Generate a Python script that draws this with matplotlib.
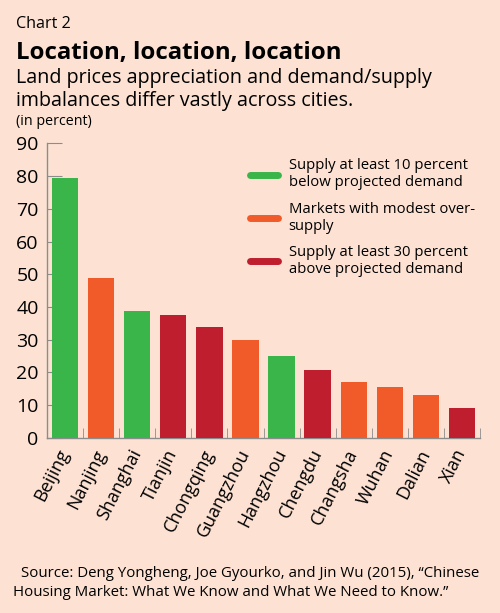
import numpy as np
import matplotlib
matplotlib.use("Agg")
import matplotlib.pyplot as plt
from matplotlib.lines import Line2D

plt.rcParams['font.family'] = ['Open Sans', 'DejaVu Sans']

cities = ["Beijing", "Nanjing", "Shanghai", "Tianjin", "Chongqing", "Guangzhou",
          "Hangzhou", "Chengdu", "Changsha", "Wuhan", "Dalian", "Xian"]
values = [79.4, 48.8, 38.7, 37.5, 33.8, 29.9, 24.9, 20.7, 16.9, 15.4, 13.1, 9.0]
groups = [0, 1, 0, 2, 2, 1, 0, 2, 1, 1, 1, 2]
yticks = [0, 10, 20, 30, 40, 50, 60, 70, 80, 90]

group_colors = ["#3AB54A", "#F15A29", "#BE1E2D"]
group_labels = ["Supply at least 10 percent\nbelow projected demand",
                "Markets with modest over-\nsupply",
                "Supply at least 30 percent\nabove projected demand"]

bg = "#FDE2D3"
axis_gray = "#8C8C8C"

fig = plt.figure(figsize=(5, 6.13), dpi=100, facecolor=bg)
ax = fig.add_axes([0.094, 0.286, 0.866, 0.48], facecolor=bg)

x = np.arange(len(cities))
ax.bar(x, values, width=0.73, color=[group_colors[g] for g in groups], zorder=3)

ax.set_xlim(-0.5, len(cities) - 0.5)
ax.set_ylim(0, 90)
ax.set_yticks(yticks)
ax.set_xticks(x)
ax.set_xticklabels(cities, rotation=63, ha="right", va="center", rotation_mode="anchor", fontsize=13)
ax.set_xticks(np.arange(len(cities) + 1) - 0.5, minor=True)

for s in ["top", "right"]:
    ax.spines[s].set_visible(False)
for s in ["left", "bottom"]:
    ax.spines[s].set_color(axis_gray)
    ax.spines[s].set_linewidth(1.0)

ax.tick_params(axis="y", direction="in", length=11, color=axis_gray, labelsize=14, pad=6)
ax.tick_params(axis="x", which="major", length=0, pad=9)
ax.tick_params(axis="x", which="minor", direction="in", length=7, color=axis_gray)

handles = [Line2D([0], [0], color=c, lw=5, solid_capstyle="round") for c in group_colors]
leg = ax.legend(handles, group_labels, loc="upper left", bbox_to_anchor=(0.455, 0.97),
                frameon=False, fontsize=10.7, handlelength=1.9, handletextpad=0.7,
                labelspacing=0.75, borderaxespad=0.0)

fig.text(0.032, 0.954, "Chart 2", fontsize=11.6, va="baseline")
fig.text(0.032, 0.904, "Location, location, location", fontsize=17.3, fontweight="bold", va="baseline")
fig.text(0.032, 0.865, "Land prices appreciation and demand/supply", fontsize=14.2, va="baseline")
fig.text(0.032, 0.827, "imbalances differ vastly across cities.", fontsize=14.2, va="baseline")
fig.text(0.032, 0.796, "(in percent)", fontsize=10.3, va="baseline")

fig.text(0.042, 0.058, "Source: Deng Yongheng, Joe Gyourko, and Jin Wu (2015), \u201cChinese",
         fontsize=10.8, va="baseline")
fig.text(0.026, 0.027, "Housing Market: What We Know and What We Need to Know.\u201d",
         fontsize=10.8, va="baseline")

fig.savefig("out.png", dpi=100, facecolor=bg)
